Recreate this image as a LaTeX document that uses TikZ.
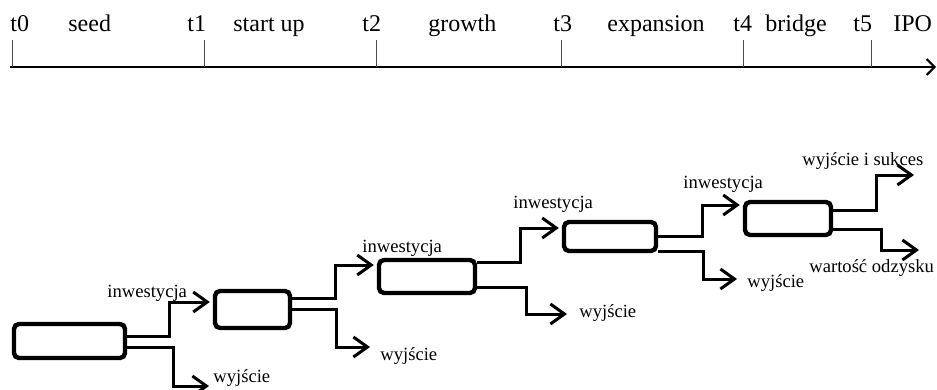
\documentclass[tikz,border=0pt]{standalone}
\usepackage{fontspec}
\setmainfont{Liberation Serif}
\usetikzlibrary{arrows.meta}
\tikzset{
	stage/.style={draw,line width=2.2pt,rounded corners=2.5pt,inner sep=0pt},
	flow/.style={line width=1.5pt,shorten >=1.5pt,-{Straight Barb[length=7pt,width=10pt]}},
	lab/.style={anchor=base west,inner sep=0pt,font=\fontsize{9.3}{11}\selectfont},
	phase/.style={anchor=base west,inner sep=0pt,font=\fontsize{12}{14}\selectfont}
}
\begin{document}
\begin{tikzpicture}[x=0.5pt,y=-0.5pt]
	\useasboundingbox (0,0) rectangle (937,390);
	% time axis
	\draw[line width=1pt,-{Straight Barb[length=4pt,width=8pt]}] (10,67) -- (936,67);
	\foreach \x in {12,204,376,561,743,871}
		\draw[gray!60!black,line width=0.5pt] (\x,40) -- (\x,67);
	\node[phase] (t0) at (10,32) {t0};
	\node[phase] (seed) at (68,32) {seed};
	\node[phase] (t1) at (187,32) {t1};
	\node[phase] (start) at (233,32) {start up};
	\node[phase] (t2) at (362,32) {t2};
	\node[phase] (growth) at (428,32) {growth};
	\node[phase] (t3) at (553,32) {t3};
	\node[phase] (expansion) at (607,32) {expansion};
	\node[phase] (t4) at (733,32) {t4};
	\node[phase] (bridge) at (765,32) {bridge};
	\node[phase] (t5) at (853,32) {t5};
	\node[phase] (ipo) at (893,32) {IPO};
	% stages
	\node[stage,minimum width=55.5pt,minimum height=17pt] (b1) at (69.5,341) {};
	\node[stage,minimum width=37.5pt,minimum height=18.5pt] (b2) at (252.5,309.5) {};
	\node[stage,minimum width=48pt,minimum height=16.5pt] (b3) at (427,276.5) {};
	\node[stage,minimum width=46pt,minimum height=14.5pt] (b4) at (610,236.5) {};
	\node[stage,minimum width=43pt,minimum height=16.5pt] (b5) at (788,218.5) {};
	% exits
	\coordinate (x1) at (212,386);
	\coordinate (x2) at (373,347);
	\coordinate (x3) at (570,314);
	\coordinate (x4) at (740,279);
	\coordinate (x5) at (917,175);
	\coordinate (x6) at (922,250);
	% investment flows
	\draw[flow] ([yshift=2.5pt]b1.east) -- ++(21pt,0pt) |- ([yshift=3.75pt]b2.west);
	\draw[flow] ([yshift=5.75pt]b2.east) -- ++(21.5pt,0pt) |- ([yshift=5.75pt]b3.west);
	\draw[flow] ([yshift=7.25pt]b3.east) -- ++(21.5pt,0pt) |- ([yshift=4.25pt]b4.west);
	\draw[flow] ([yshift=0.25pt]b4.east) -- ++(22pt,0pt) |- ([yshift=6.75pt]b5.west);
	\draw[flow] ([yshift=4.25pt]b5.east) -- ++(21.5pt,0pt) |- (x5);
	% exit flows
	\draw[flow] ([yshift=-3pt]b1.east) -- ++(23pt,0pt) |- (x1);
	\draw[flow] ([yshift=0.25pt]b2.east) -- ++(22pt,0pt) |- (x2);
	\draw[flow] ([yshift=-5.25pt]b3.east) -- ++(24.5pt,0pt) |- (x3);
	\draw[flow] ([yshift=-7.25pt]b4.east) -- ++(22.5pt,0pt) |- (x4);
	\draw[flow] ([yshift=-5.25pt]b5.east) -- ++(24pt,0pt) |- (x6);
	% labels
	\node[lab] (inw1) at (107,297) {inwestycja};
	\node[lab] (inw2) at (362,252) {inwestycja};
	\node[lab] (inw3) at (513,208) {inwestycja};
	\node[lab] (inw4) at (683,188) {inwestycja};
	\node[lab] (wyj1) at (213,382) {wyjście};
	\node[lab] (wyj2) at (380,360) {wyjście};
	\node[lab] (wyj3) at (579,317) {wyjście};
	\node[lab] (wyj4) at (747,287) {wyjście};
	\node[lab] (succ) at (802,165) {wyjście i sukces};
	\node[lab] (odz) at (809,272) {wartość odzysku};
\end{tikzpicture}
\end{document}
